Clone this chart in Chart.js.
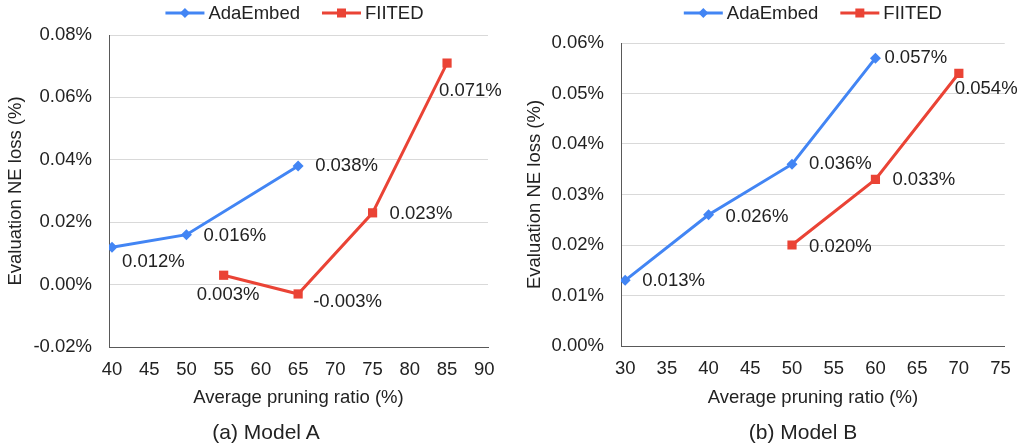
<!DOCTYPE html>
<html>
<head>
<meta charset="utf-8">
<title>NE loss vs pruning ratio</title>
<script src="https://cdn.jsdelivr.net/npm/chart.js@4.4.1/dist/chart.umd.min.js"></script>
<style>
    body { margin: 0; background: #fff; width: 1023px; height: 444px; position: relative; overflow: hidden;
           font-family: "Liberation Sans", Arial, sans-serif; }
    .panel { position: absolute; top: 0; height: 444px; }
    .caption { position: absolute; top: 419px; font-size: 21px; line-height: 26px; color: #222; text-align: center; }
</style>
</head>
<body>
<div class="panel" style="left:0;width:510px"><canvas id="chartA" width="510" height="444"></canvas></div>
<div class="panel" style="left:510px;width:513px"><canvas id="chartB" width="513" height="444"></canvas></div>
<div class="caption" style="left:166px;width:200px">(a) Model A</div>
<div class="caption" style="left:703px;width:200px">(b) Model B</div>

<script>
// --- data ---
const seriesNames = ['AdaEmbed', 'FIITED'];

// Model A
const xTicksA = [40, 45, 50, 55, 60, 65, 70, 75, 80, 85, 90];
const yTicksA = [-0.02, 0, 0.02, 0.04, 0.06, 0.08];
const adaRatioA = [40, 50, 65];
const adaLossA = [0.012, 0.016, 0.038];
const fiitedRatioA = [55, 65, 75, 85];
const fiitedLossA = [0.003, -0.003, 0.023, 0.071];

// Model B
const xTicksB = [30, 35, 40, 45, 50, 55, 60, 65, 70, 75];
const yTicksB = [0, 0.01, 0.02, 0.03, 0.04, 0.05, 0.06];
const adaRatioB = [30, 40, 50, 60];
const adaLossB = [0.013, 0.026, 0.036, 0.057];
const fiitedRatioB = [50, 60, 70];
const fiitedLossB = [0.020, 0.033, 0.054];

const BLUE = '#4285f4';
const RED = '#ea4335';
const TEXT = '#222222';
const FONT = "'Liberation Sans', Arial, sans-serif";

Chart.defaults.font.family = FONT;
Chart.defaults.color = TEXT;

function toPoints(xs, ys) {
    return xs.map((x, i) => ({ x: x, y: ys[i] }));
}

// value labels next to each marker, offsets are [dx to text left, dy to text middle]
const valueLabels = {
    id: 'valueLabels',
    afterDatasetsDraw(chart) {
        const ctx = chart.ctx;
        ctx.save();
        ctx.font = '18.5px ' + FONT;
        ctx.fillStyle = TEXT;
        ctx.textAlign = 'left';
        ctx.textBaseline = 'middle';
        chart.data.datasets.forEach((ds, di) => {
            const meta = chart.getDatasetMeta(di);
            meta.data.forEach((pt, i) => {
                const off = ds.labelOffsets[i];
                ctx.fillText(ds.data[i].y.toFixed(3) + '%', pt.x + off[0], pt.y + off[1]);
            });
        });
        ctx.restore();
    }
};

// legend: line with the marker in the middle, centred over the plot
const lineLegend = {
    id: 'lineLegend',
    afterDraw(chart, args, opts) {
        const ctx = chart.ctx;
        const area = chart.chartArea;
        const lineLen = 39, gap = 4, spacing = 22, y = 13;
        ctx.save();
        ctx.font = '18.5px ' + FONT;
        const widths = chart.data.datasets.map(ds => ctx.measureText(ds.label).width);
        const total = widths.reduce((s, w) => s + lineLen + gap + w, 0) + spacing * (widths.length - 1);
        let x = (area.left + area.right) / 2 - total / 2 + (opts.shift || 0);
        chart.data.datasets.forEach((ds, i) => {
            const mid = x + lineLen / 2;
            ctx.strokeStyle = ds.borderColor;
            ctx.lineWidth = 3;
            ctx.beginPath();
            ctx.moveTo(x, y);
            ctx.lineTo(x + lineLen, y);
            ctx.stroke();
            ctx.fillStyle = ds.borderColor;
            ctx.beginPath();
            if (ds.pointStyle === 'rect') {
                ctx.rect(mid - 4.5, y - 4.5, 9, 9);
            } else {
                const r = 5;
                ctx.moveTo(mid - r, y);
                ctx.lineTo(mid, y - r);
                ctx.lineTo(mid + r, y);
                ctx.lineTo(mid, y + r);
                ctx.closePath();
            }
            ctx.fill();
            ctx.fillStyle = TEXT;
            ctx.textAlign = 'left';
            ctx.textBaseline = 'middle';
            ctx.fillText(ds.label, x + lineLen + gap, y + 1);
            x += lineLen + gap + widths[i] + spacing;
        });
        ctx.restore();
    }
};

function makePanel(canvasId, p) {
    return new Chart(document.getElementById(canvasId), {
        type: 'line',
        data: {
            datasets: [
                {
                    label: seriesNames[0],
                    data: toPoints(p.adaX, p.adaY),
                    borderColor: BLUE,
                    backgroundColor: BLUE,
                    borderWidth: 3,
                    pointStyle: 'rectRot',
                    pointRadius: 5.5,
                    pointBorderWidth: 0,
                    tension: 0,
                    labelOffsets: p.adaOffsets
                },
                {
                    label: seriesNames[1],
                    data: toPoints(p.fitX, p.fitY),
                    borderColor: RED,
                    backgroundColor: RED,
                    borderWidth: 3,
                    pointStyle: 'rect',
                    pointRadius: 6.5,
                    pointBorderWidth: 0,
                    tension: 0,
                    labelOffsets: p.fitOffsets
                }
            ]
        },
        options: {
            responsive: false,
            animation: false,
            layout: { padding: { top: p.top, right: p.right, left: 0, bottom: 0 } },
            plugins: {
                legend: { display: false },
                tooltip: { enabled: false },
                lineLegend: { shift: p.legendShift }
            },
            scales: {
                x: {
                    type: 'linear',
                    min: p.xMin,
                    max: p.xMax,
                    afterBuildTicks: s => { s.ticks = p.xTicks.map(v => ({ value: v })); },
                    afterFit: s => { s.height = 444 - p.bottom; },
                    grid: { display: false, drawTicks: false },
                    border: { display: true, color: '#595959', width: 1 },
                    ticks: { padding: 12, font: { size: 18.5 }, color: TEXT, callback: v => String(v) },
                    title: {
                        display: true, text: 'Average pruning ratio (%)', color: TEXT,
                        font: { size: 18.5 }, padding: { top: 0, bottom: 35 }
                    }
                },
                y: {
                    min: p.yTicks[0],
                    max: p.yTicks[p.yTicks.length - 1],
                    afterBuildTicks: s => { s.ticks = p.yTicks.map(v => ({ value: v })); },
                    afterFit: s => { s.width = p.left; },
                    grid: { color: '#d9d9d9', lineWidth: 1, drawTicks: false },
                    border: { display: true, color: '#595959', width: 1 },
                    ticks: { padding: 17, font: { size: 18.5 }, color: TEXT, callback: v => v.toFixed(2) + '%' },
                    title: {
                        display: true, text: 'Evaluation NE loss (%)', color: TEXT,
                        font: { size: 18.5 }, padding: { top: p.yTitlePad, bottom: 0 }
                    }
                }
            }
        },
        plugins: [valueLabels, lineLegend]
    });
}

makePanel('chartA', {
    adaX: adaRatioA, adaY: adaLossA, fitX: fiitedRatioA, fitY: fiitedLossA,
    xTicks: xTicksA, yTicks: yTicksA, xMin: 39.6, xMax: 90.5,
    left: 109, right: 22, top: 35, bottom: 347, yTitlePad: 5, legendShift: -4,
    adaOffsets: [[10, 15], [17, 1], [17, 0]],
    fitOffsets: [[-27, 20], [15, 8], [17, 1], [-8, 28]]
});

makePanel('chartB', {
    adaX: adaRatioB, adaY: adaLossB, fitX: fiitedRatioB, fitY: fiitedLossB,
    xTicks: xTicksB, yTicks: yTicksB, xMin: 29.5, xMax: 75.5,
    left: 111, right: 15, top: 43, bottom: 346, yTitlePad: 14, legendShift: 0,
    adaOffsets: [[17, 1], [17, 2], [17, 0], [9, 0]],
    fitOffsets: [[17, 2], [17, 1], [-4, 16]]
});
</script>
</body>
</html>
